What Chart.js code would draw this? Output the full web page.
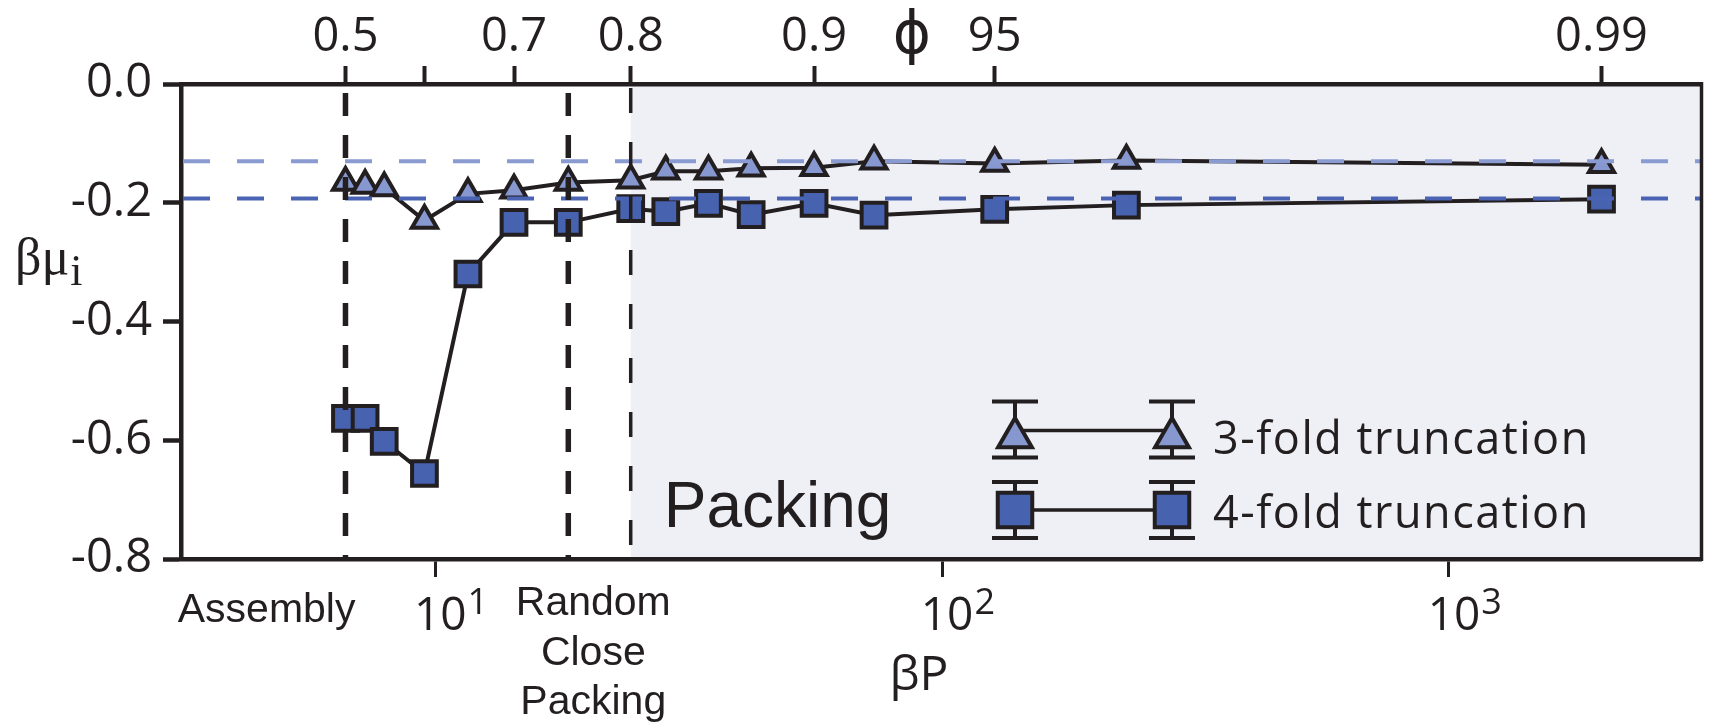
<!DOCTYPE html>
<html>
<head>
<meta charset="utf-8">
<title>Chemical potential vs pressure</title>
<script src="https://cdn.jsdelivr.net/npm/chart.js@4.4.1/dist/chart.umd.min.js"></script>
<style>
  html, body { margin: 0; padding: 0; background: #fff; overflow: hidden; }
  #wrap { width: 1723px; height: 725px; position: relative; }
</style>
</head>
<body>
<div id="wrap"><canvas id="muChart"></canvas></div>
<script>
"use strict";

// Data

// βP of each state point
const pressures = [6.65, 7.27, 7.93, 9.52, 11.6, 14.3, 18.3, 24.3, 28.5, 34.6, 42.0, 55.9, 73.4, 127, 231, 2000];
// βμ_i, 3-fold and 4-fold truncated particles
const mu3fold = [-0.166, -0.171, -0.175, -0.230, -0.185, -0.179, -0.166, -0.162, -0.147, -0.147, -0.142, -0.141, -0.130, -0.134, -0.129, -0.136];
const mu4fold = [-0.563, -0.563, -0.602, -0.656, -0.320, -0.233, -0.233, -0.210, -0.215, -0.201, -0.220, -0.201, -0.221, -0.211, -0.204, -0.194];

// packing fraction axis along the top
const phiPressures = [6.65, 9.52, 14.3, 24.3, 55.9, 127, 2000];
const phiLabels = ["0.5", "", "0.7", "0.8", "0.9", "95", "0.99"];

// βP axis ticks (drawn as 10^n)
const pressureTicks = [10, 100, 1000];
const pressureExponents = ["1", "2", "3"];

// limiting values (dashed horizontals)
const mu3Limit = -0.130;
const mu4Limit = -0.193;

// regime boundaries
const assemblyAt = 6.65;
const rcpAt = 18.3;
const packingAt = 24.3;

const xMin = 3.15;
const xMax = 3150;

// Style

const ink = "#231f20";
const lightBlue = "#8797cf";
const darkBlue = "#4762af";
const lightDash = "#8a9bd2";
const darkDash = "#4a64b3";
const shade = "#eff0f6";
const sansUI = "'Open Sans', 'DejaVu Sans', sans-serif";
const sansText = "'Liberation Sans', Arial, sans-serif";

// Drawing helpers

const triangle = (ctx, cx, cy, r) => {
  ctx.beginPath();
  ctx.moveTo(cx, cy - r);
  ctx.lineTo(cx + r * 0.866, cy + r / 2);
  ctx.lineTo(cx - r * 0.866, cy + r / 2);
  ctx.closePath();
  ctx.fill();
  ctx.stroke();
};

const square = (ctx, cx, cy, h) => {
  ctx.beginPath();
  ctx.rect(cx - h, cy - h, 2 * h, 2 * h);
  ctx.fill();
  ctx.stroke();
};

const errorBar = (ctx, cx, top, bottom) => {
  ctx.beginPath();
  ctx.moveTo(cx, top);
  ctx.lineTo(cx, bottom);
  ctx.moveTo(cx - 23, top);
  ctx.lineTo(cx + 23, top);
  ctx.moveTo(cx - 23, bottom);
  ctx.lineTo(cx + 23, bottom);
  ctx.stroke();
};

const vDashed = (ctx, a, px, width, dash, gapAtTop) => {
  ctx.lineWidth = width;
  ctx.strokeStyle = ink;
  ctx.setLineDash(dash);
  ctx.lineDashOffset = dash[0] + dash[1] - gapAtTop;
  ctx.beginPath();
  ctx.moveTo(px, a.top);
  ctx.lineTo(px, a.bottom);
  ctx.stroke();
};

// Shading, reference lines, annotations and legend

const muDecor = {
  id: "muDecor",
  beforeDraw(chart) {
    const { ctx, chartArea: a, scales } = chart;
    const x0 = scales.x.getPixelForValue(packingAt);
    ctx.save();
    ctx.fillStyle = shade;
    ctx.fillRect(x0, a.top, a.right - x0, a.bottom - a.top);
    ctx.restore();
  },
  afterDatasetsDraw(chart) {
    const { ctx, chartArea: a, scales } = chart;
    const { x, y } = scales;
    ctx.save();

    // limiting chemical potentials
    ctx.lineWidth = 4;
    ctx.setLineDash([27, 27]);
    [[mu3Limit, lightDash], [mu4Limit, darkDash]].forEach(([v, c]) => {
      const py = y.getPixelForValue(v);
      ctx.strokeStyle = c;
      ctx.beginPath();
      ctx.moveTo(a.left + 2, py);
      ctx.lineTo(a.right, py);
      ctx.stroke();
    });

    // assembly, random close packing, packing
    vDashed(ctx, a, x.getPixelForValue(assemblyAt), 5.5, [23, 19], 9);
    vDashed(ctx, a, x.getPixelForValue(rcpAt), 5.5, [23, 19], 9);
    vDashed(ctx, a, x.getPixelForValue(packingAt), 3.5, [25, 29], 4);
    ctx.setLineDash([]);

    // right frame
    ctx.lineWidth = 3.5;
    ctx.strokeStyle = ink;
    ctx.beginPath();
    ctx.moveTo(a.right, a.top - 2);
    ctx.lineTo(a.right, a.bottom + 2);
    ctx.stroke();

    ctx.restore();
  },
  afterDraw(chart) {
    const { ctx, scales } = chart;
    const x = scales.x;
    ctx.save();
    ctx.fillStyle = ink;

    // y label βμ_i
    ctx.textAlign = "left";
    ctx.textBaseline = "alphabetic";
    ctx.font = "52px 'Liberation Serif', 'DejaVu Serif', serif";
    ctx.fillText("βμ", 15, 274);
    const w = ctx.measureText("βμ").width;
    ctx.font = "44px 'Liberation Serif', 'DejaVu Serif', serif";
    ctx.fillText("i", 15 + w + 1, 285);

    // βP ticks as powers of ten
    pressureTicks.forEach((v, i) => {
      const px = x.getPixelForValue(v);
      ctx.font = "46px " + sansUI;
      ctx.textAlign = "center";
      ctx.fillText("10", px + 5, 630);
      const tw = ctx.measureText("10").width;
      ctx.font = "36px " + sansUI;
      ctx.textAlign = "left";
      ctx.fillText(pressureExponents[i], px + 5 + tw / 2 + 1, 614);
    });

    ctx.font = "48px " + sansUI;
    ctx.textAlign = "center";
    ctx.fillText("βP", 919, 690);

    // φ over the top axis
    ctx.font = "58px 'DejaVu Sans', sans-serif";
    ctx.fillText("ϕ", 912, 53);

    // regime names below the axis
    ctx.font = "41px " + sansText;
    ctx.textAlign = "right";
    ctx.fillText("Assembly", x.getPixelForValue(assemblyAt) + 10, 622);
    ctx.textAlign = "center";
    const rx = x.getPixelForValue(rcpAt) + 25;
    ctx.fillText("Random", rx, 615);
    ctx.fillText("Close", rx, 665);
    ctx.fillText("Packing", rx, 714);

    ctx.font = "64px " + sansText;
    ctx.textAlign = "left";
    ctx.fillText("Packing", x.getPixelForValue(packingAt) + 33, 527);

    // legend
    const lx = [1015, 1172];
    ctx.strokeStyle = ink;
    ctx.lineWidth = 3.5;
    ctx.beginPath();
    ctx.moveTo(lx[0], 430.5);
    ctx.lineTo(lx[1], 430.5);
    ctx.moveTo(lx[0], 510);
    ctx.lineTo(lx[1], 510);
    ctx.stroke();
    ctx.lineWidth = 4;
    lx.forEach((cx) => {
      errorBar(ctx, cx, 401.5, 457.5);
      errorBar(ctx, cx, 482, 538);
    });
    lx.forEach((cx) => {
      ctx.fillStyle = lightBlue;
      triangle(ctx, cx, 437.5, 19.5);
      ctx.fillStyle = darkBlue;
      square(ctx, cx, 510, 17.25);
    });
    ctx.fillStyle = ink;
    ctx.font = "45px " + sansUI;
    ctx.letterSpacing = "1.5px";
    ctx.textAlign = "left";
    ctx.fillText("3-fold truncation", 1213, 454);
    ctx.fillText("4-fold truncation", 1213, 528);
    ctx.letterSpacing = "0px";

    ctx.restore();
  },
};

// Chart

const seriesPoints = (values) => pressures.map((p, i) => ({ x: p, y: values[i] }));

const tickFont = { family: sansUI, size: 47 };

const ctx = document.getElementById("muChart").getContext("2d");
const muChart = new Chart(ctx, {
  type: "line",
  data: {
    datasets: [
      {
        label: "4-fold truncation",
        data: seriesPoints(mu4fold),
        borderColor: ink,
        borderWidth: 4,
        backgroundColor: darkBlue,
        pointStyle: "rect",
        pointRadius: 17.5,
        pointBorderWidth: 4,
        pointBorderColor: ink,
        pointBackgroundColor: darkBlue,
        tension: 0,
        clip: false,
      },
      {
        label: "3-fold truncation",
        data: seriesPoints(mu3fold),
        borderColor: ink,
        borderWidth: 4,
        backgroundColor: lightBlue,
        pointStyle: "triangle",
        pointRadius: 14.5,
        pointBorderWidth: 4,
        pointBorderColor: ink,
        pointBackgroundColor: lightBlue,
        tension: 0,
        clip: false,
      },
    ],
  },
  options: {
    responsive: true,
    maintainAspectRatio: false,
    animation: false,
    devicePixelRatio: 1,
    layout: { padding: { left: 0, right: 7, top: 0, bottom: 0 } },
    plugins: {
      legend: { display: false },
      tooltip: { enabled: false },
    },
    scales: {
      x: {
        type: "logarithmic",
        position: "bottom",
        min: xMin,
        max: xMax,
        afterBuildTicks: (scale) => {
          scale.ticks = pressureTicks.map((v) => ({ value: v }));
        },
        afterFit: (scale) => {
          scale.height = 166;
        },
        ticks: { display: false },
        grid: {
          drawOnChartArea: false,
          drawTicks: true,
          tickLength: 18,
          tickWidth: 3,
          tickColor: ink,
        },
        border: { display: true, color: ink, width: 4.5 },
      },
      xTop: {
        type: "logarithmic",
        position: "top",
        min: xMin,
        max: xMax,
        afterBuildTicks: (scale) => {
          scale.ticks = phiPressures.map((v) => ({ value: v }));
        },
        afterFit: (scale) => {
          scale.height = 84;
        },
        ticks: {
          autoSkip: false,
          maxRotation: 0,
          padding: 0,
          color: ink,
          font: tickFont,
          callback: (value, index) => phiLabels[index],
        },
        grid: {
          drawOnChartArea: false,
          drawTicks: true,
          tickLength: 18,
          tickWidth: 4,
          tickColor: ink,
        },
        border: { display: true, color: ink, width: 4.5 },
      },
      y: {
        type: "linear",
        position: "left",
        min: -0.8,
        max: 0,
        afterFit: (scale) => {
          scale.width = 181;
        },
        ticks: {
          stepSize: 0.2,
          padding: 11,
          color: ink,
          font: tickFont,
          callback: (value) => value.toFixed(1),
        },
        grid: {
          drawOnChartArea: false,
          drawTicks: true,
          tickLength: 18,
          tickWidth: 4.5,
          tickColor: ink,
        },
        border: { display: true, color: ink, width: 4.5 },
      },
    },
  },
  plugins: [muDecor],
});
</script>
</body>
</html>
